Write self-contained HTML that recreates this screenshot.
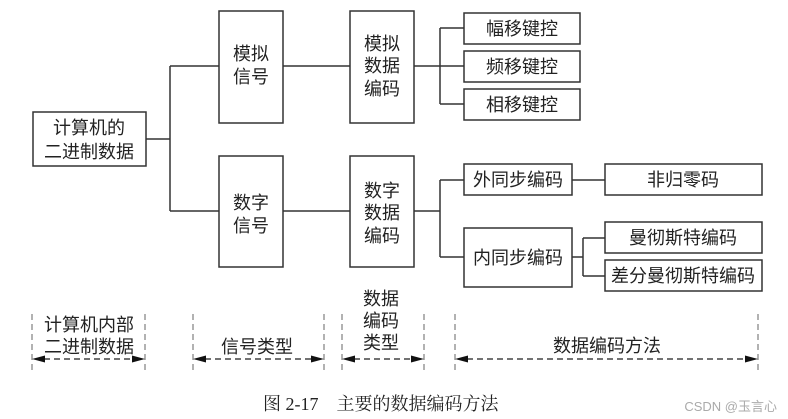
<!DOCTYPE html>
<html><head><meta charset="utf-8"><style>
html,body{margin:0;padding:0;background:#fff;width:788px;height:419px;overflow:hidden}
svg text{font-family:"Liberation Sans","Noto Sans CJK SC",sans-serif;fill:#222}
</style></head><body>
<svg width="788" height="419" viewBox="0 0 788 419" xmlns="http://www.w3.org/2000/svg">
<g fill="#fff" stroke="#333" stroke-width="1.5">
<rect x="33" y="112" width="113" height="54"/>
<rect x="219" y="11" width="64" height="112"/>
<rect x="219" y="156" width="64" height="111"/>
<rect x="350" y="11" width="64" height="112"/>
<rect x="350" y="156" width="64" height="111"/>
<rect x="464" y="13" width="116" height="31"/>
<rect x="464" y="51" width="116" height="31"/>
<rect x="464" y="89" width="116" height="31"/>
<rect x="464" y="164" width="108" height="31"/>
<rect x="605" y="164" width="157" height="31"/>
<rect x="464" y="228" width="108" height="59"/>
<rect x="605" y="222" width="157" height="31"/>
<rect x="605" y="260" width="157" height="31"/>
</g>
<g fill="none" stroke="#333" stroke-width="1.5">
<path d="M146 139H170M170 66V211M170 66H219M170 211H219"/>
<path d="M283 66H350M283 211H350"/>
<path d="M414 66H440M440 28V104M440 28H464M440 66H464M440 104H464"/>
<path d="M414 211H440M440 180V257M440 180H464M440 257H464"/>
<path d="M572 180H605"/>
<path d="M572 257H583M583 238V276M583 238H605M583 276H605"/>
</g>
<g font-size="18" text-anchor="middle">
<text x="89" y="134">计算机的</text>
<text x="89" y="158">二进制数据</text>
<text x="251" y="60">模拟</text><text x="251" y="83">信号</text>
<text x="251" y="209">数字</text><text x="251" y="232">信号</text>
<text x="382" y="50">模拟</text><text x="382" y="72">数据</text><text x="382" y="95">编码</text>
<text x="382" y="197">数字</text><text x="382" y="219">数据</text><text x="382" y="242">编码</text>
<text x="522" y="35">幅移键控</text>
<text x="522" y="73">频移键控</text>
<text x="522" y="111">相移键控</text>
<text x="518" y="186">外同步编码</text>
<text x="683" y="186">非归零码</text>
<text x="518" y="264">内同步编码</text>
<text x="683" y="244">曼彻斯特编码</text>
<text x="683" y="282">差分曼彻斯特编码</text>
<text x="89" y="331">计算机内部</text>
<text x="89" y="353">二进制数据</text>
<text x="257" y="353">信号类型</text>
<text x="381" y="305">数据</text><text x="381" y="327">编码</text><text x="381" y="349">类型</text>
<text x="607" y="352">数据编码方法</text>
</g>
<g stroke="#666" stroke-width="1" stroke-dasharray="6,4" fill="none">
<path d="M32 314V374M145 314V374M193 314V374M324 314V374M342 314V374M424 314V374M455 314V374M758 314V374"/>
</g>
<g stroke="#444" stroke-width="1.5" stroke-dasharray="6,4" fill="none">
<path d="M44 359H133M205 359H312M354 359H412M467 359H746"/>
</g>
<g fill="#111">
<path d="M32 359l13-3.5v7z M145 359l-13-3.5v7z"/>
<path d="M193 359l13-3.5v7z M324 359l-13-3.5v7z"/>
<path d="M342 359l13-3.5v7z M424 359l-13-3.5v7z"/>
<path d="M455 359l13-3.5v7z M758 359l-13-3.5v7z"/>
</g>
<text x="263" y="410" font-size="18" style="font-family:'Liberation Serif','Noto Serif CJK SC',serif">图 2-17　主要的数据编码方法</text>
<text x="777" y="411" font-size="13" text-anchor="end" style="fill:#aaa">CSDN @玉言心</text>
</svg>
</body></html>
